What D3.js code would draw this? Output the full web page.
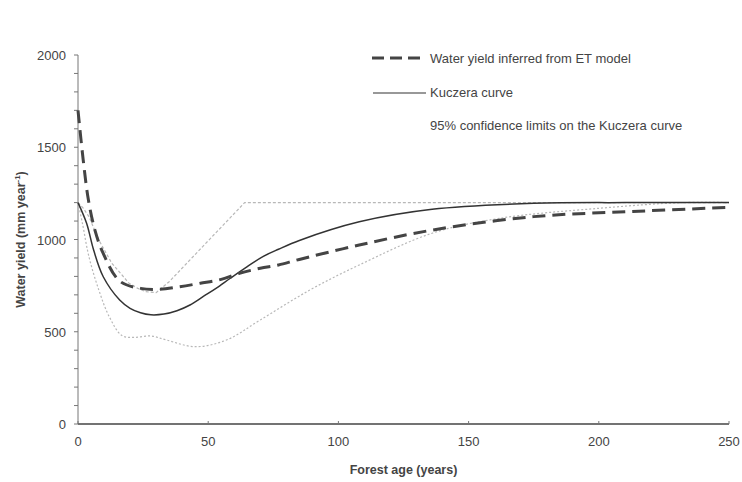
<!DOCTYPE html>
<html>
<head>
<meta charset="utf-8">
<script src="https://cdn.jsdelivr.net/npm/d3@7"></script>
<style>
  body { margin: 0; background: #fff; }
  text { font-family: "Liberation Sans", Arial, sans-serif; fill: #444; }
</style>
</head>
<body>
<div id="chart"></div>
<script>
// forest age (years) and water yield (mm/yr)
var etAge      = [0, 2, 4, 6.5, 9.6, 16, 24, 31.5, 39, 47, 55, 62, 70, 77, 85, 108, 136, 175, 213, 250];
var etYield    = [1700, 1431, 1214, 1051, 927, 775, 735, 730, 744, 763, 784, 817, 844, 862, 892, 970, 1051, 1124, 1152, 1174];

var kuczAge    = [0, 3.3, 6, 9.7, 16, 20, 24, 28, 33, 38, 43, 48, 53, 58.5, 65, 71, 77, 85, 108, 136, 175, 210, 250];
var kuczYield  = [1200, 1088, 943, 798, 672, 627, 603, 592, 596, 614, 645, 690, 735, 790, 853, 907, 947, 995, 1096, 1164, 1196, 1200, 1200];

var upperAge   = [0, 2, 4.2, 8, 13, 19.6, 23, 26, 30, 35, 64, 250];
var upperYield = [1200, 1170, 1124, 997, 871, 763, 735, 717, 712, 771, 1200, 1200];

var lowerAge   = [0, 1.7, 4.2, 8, 12, 17, 22, 28, 34, 45, 57, 70, 89, 108, 136, 162, 200, 232, 250];
var lowerYield = [1200, 1088, 907, 726, 582, 478, 470, 477, 455, 419, 455, 564, 726, 862, 1034, 1115, 1169, 1200, 1200];

var xTicks = [0, 50, 100, 150, 200, 250];
var yTicks = [0, 500, 1000, 1500, 2000];

var width = 742, height = 482;
var margin = { left: 78, right: 13, top: 55, bottom: 58 };

var svg = d3.select("#chart").append("svg")
    .attr("width", width)
    .attr("height", height);

var x = d3.scaleLinear().domain([0, 250]).range([margin.left, width - margin.right]);
var y = d3.scaleLinear().domain([0, 2000]).range([height - margin.bottom, margin.top]);

// y axis
var yAxis = svg.append("g").attr("transform", "translate(" + margin.left + ",0)");
yAxis.append("line")
    .attr("x1", 0).attr("x2", 0)
    .attr("y1", y(0)).attr("y2", y(2000))
    .attr("stroke", "#777").attr("stroke-width", 1);
yAxis.selectAll(".minor")
    .data(d3.range(0, 2001, 100))
    .enter().append("line")
    .attr("x1", -4).attr("x2", 0)
    .attr("y1", d => y(d)).attr("y2", d => y(d))
    .attr("stroke", "#777");
yAxis.selectAll(".lab")
    .data(yTicks)
    .enter().append("text")
    .attr("x", -12)
    .attr("y", d => y(d) + 5)
    .attr("text-anchor", "end")
    .style("font-size", "13px")
    .text(d => d);

// x axis
var xAxis = svg.append("g").attr("transform", "translate(0," + y(0) + ")");
xAxis.append("line")
    .attr("x1", x(0)).attr("x2", x(250))
    .attr("stroke", "#444").attr("stroke-width", 1.6);
xAxis.selectAll(".tick")
    .data(xTicks)
    .enter().append("line")
    .attr("x1", d => x(d)).attr("x2", d => x(d))
    .attr("y1", -3).attr("y2", 0)
    .attr("stroke", "#777");
xAxis.selectAll(".lab")
    .data(xTicks)
    .enter().append("text")
    .attr("x", d => x(d))
    .attr("y", 22)
    .attr("text-anchor", "middle")
    .style("font-size", "13px")
    .text(d => d);

// axis titles
svg.append("text")
    .attr("x", x(125)).attr("y", 474)
    .attr("text-anchor", "middle")
    .style("font-size", "12.5px").style("font-weight", "bold")
    .text("Forest age (years)");

svg.append("text")
    .attr("transform", "translate(25," + y(1000) + ") rotate(-90)")
    .attr("text-anchor", "middle")
    .style("font-size", "12.5px").style("font-weight", "bold")
    .html("Water yield (mm year<tspan dy='-5' style='font-size:8px'>-1</tspan><tspan dy='5'>)</tspan>");

var smooth = d3.line()
    .x(d => x(d[0]))
    .y(d => y(d[1]))
    .curve(d3.curveCatmullRom.alpha(0.5));

var straight = d3.line()
    .x(d => x(d[0]))
    .y(d => y(d[1]));

function draw(gen, ages, vals, color, w, dash) {
    svg.append("path")
        .datum(ages.map((a, i) => [a, vals[i]]))
        .attr("d", gen)
        .attr("fill", "none")
        .attr("stroke", color)
        .attr("stroke-width", w)
        .attr("stroke-dasharray", dash);
}

// confidence limits
draw(straight, upperAge, upperYield, "#b8b8b8", 1.2, "3,2");
draw(smooth, lowerAge, lowerYield, "#b8b8b8", 1.2, "2,2");
// Kuczera
draw(smooth, kuczAge, kuczYield, "#333", 1.5, null);
// ET model
draw(smooth, etAge, etYield, "#444", 3, "13,7");

// legend
var lg = svg.append("g");
lg.append("line")
    .attr("x1", 372).attr("x2", 420).attr("y1", 58).attr("y2", 58)
    .attr("stroke", "#444").attr("stroke-width", 3).attr("stroke-dasharray", "12,6");
lg.append("text").attr("x", 430).attr("y", 63).style("font-size", "13px")
    .text("Water yield inferred from ET model");
lg.append("line")
    .attr("x1", 373).attr("x2", 426).attr("y1", 93).attr("y2", 93)
    .attr("stroke", "#333").attr("stroke-width", 1.2);
lg.append("text").attr("x", 430).attr("y", 97).style("font-size", "13px")
    .text("Kuczera curve");
lg.append("text").attr("x", 430).attr("y", 130).style("font-size", "13px")
    .text("95% confidence limits on the Kuczera curve");
</script>
</body>
</html>
